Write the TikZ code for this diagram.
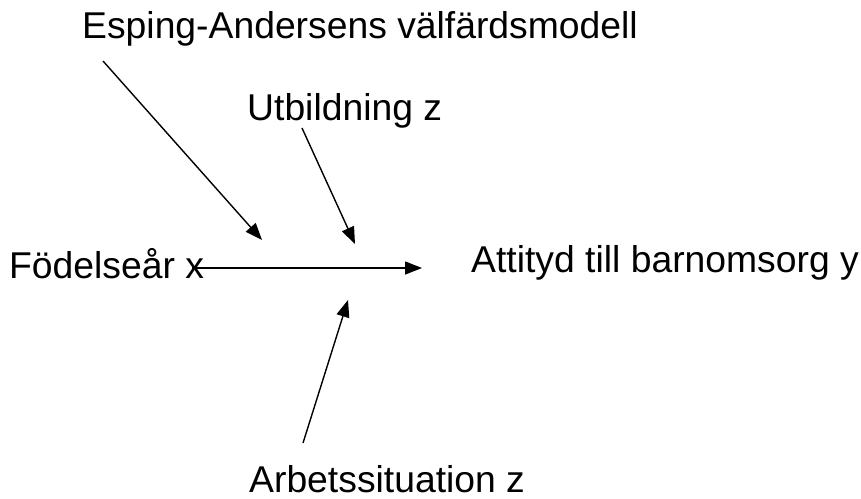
\documentclass[tikz,border=0pt]{standalone}
\usepackage{fontspec}
\setmainfont{Liberation Sans}
\usetikzlibrary{arrows.meta}

\begin{document}
\begin{tikzpicture}[x=1pt,y=-1pt, every node/.style={anchor=base west,inner sep=0pt,font=\fontsize{37.3}{44}\selectfont},
 pil/.style={line width=1.4pt,-{Triangle[length=17pt,width=13pt]}}]
\useasboundingbox (0,0) rectangle (861,498);
\node (esping) at (82,38) {Esping-Andersens välfärdsmodell};
\node (utb) at (247,120) {Utbildning z};
\node (fodd) at (9,278) {Födelseår x};
\node (att) at (471,272) {Attityd till barnomsorg y};
\node[text depth=0pt] (arb) at (249,492) {Arbetssituation z};
\coordinate (e1) at (103,61);
\coordinate (e2) at (262,240);
\coordinate (u1) at (302,128);
\coordinate (u2) at (355,244);
\coordinate (a1) at (303,443);
\coordinate (a2) at (348,300);
\coordinate (h1) at (192,268);
\coordinate (h2) at (422,268);
\draw[pil] (h1) -- (h2);
\draw[pil] (e1) -- (e2);
\draw[pil] (u1) -- (u2);
\draw[pil] (a1) -- (a2);
\end{tikzpicture}
\end{document}
